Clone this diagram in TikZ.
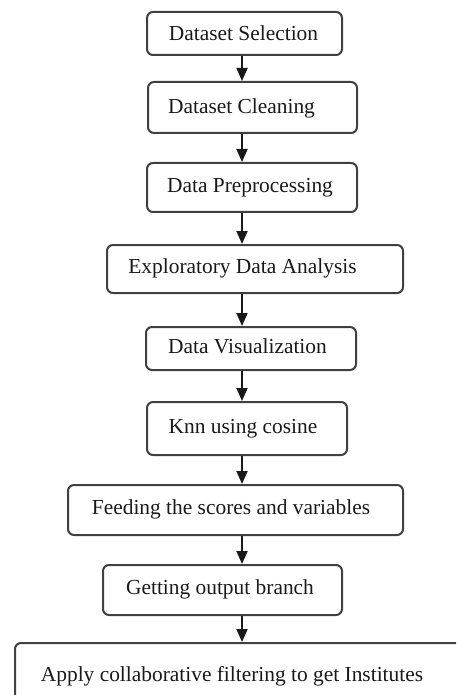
\documentclass[tikz,border=0pt]{standalone}
\usepackage{fontspec}
\setmainfont{Liberation Serif}
\usetikzlibrary{arrows.meta}

\tikzset{
  stepbox/.style={draw=black!75, line width=1pt, rounded corners=3pt, inner sep=0pt},
  steptext/.style={inner sep=0pt, text height=1.48ex, text depth=0pt,
    font=\fontsize{10.7}{13}\selectfont, text=black!90},
  flow/.style={draw=black!90, line width=0.9pt, -{Triangle[length=6.5pt, width=5.5pt]}}
}

\begin{document}
\begin{tikzpicture}[x=0.5pt, y=-0.5pt]
\useasboundingbox (0,0) rectangle (456,695);
\clip (0,0) rectangle (456,695);
\coordinate (spine) at (242,0);

% boxes
\node[stepbox, minimum width=97.5pt, minimum height=21.5pt] (sel) at (244.5,33.5) {};
\node[stepbox, minimum width=104.5pt, minimum height=25.5pt] (cln) at (252.5,107.5) {};
\node[stepbox, minimum width=105pt, minimum height=24.5pt] (pre) at (252,187.5) {};
\node[stepbox, minimum width=148pt, minimum height=24pt] (eda) at (255,269) {};
\node[stepbox, minimum width=105pt, minimum height=21.5pt] (vis) at (251,348.5) {};
\node[stepbox, minimum width=100pt, minimum height=26.5pt] (knn) at (247,428.5) {};
\node[stepbox, minimum width=167.5pt, minimum height=25pt] (feed) at (235.5,510) {};
\node[stepbox, minimum width=119.5pt, minimum height=25pt] (out) at (222.5,590) {};
\node[stepbox, minimum width=228pt, minimum height=34pt] (cf) at (243,677) {};

% labels
\node[steptext] (sel-t) at (243.5,34) {Dataset Selection};
\node[steptext] (cln-t) at (241.5,106.5) {Dataset Cleaning};
\node[steptext] (pre-t) at (250,186) {Data Preprocessing};
\node[steptext] (eda-t) at (242.5,267) {Exploratory Data Analysis};
\node[steptext] (vis-t) at (247.5,347) {Data Visualization};
\node[steptext] (knn-t) at (243,427) {Knn using cosine};
\node[steptext] (feed-t) at (231,508) {Feeding the scores and variables};
\node[steptext] (out-t) at (220,588) {Getting output branch};
\node[steptext] (cf-t) at (232,675) {Apply collaborative filtering to get Institutes};

% arrows
\draw[flow] (sel.south -| spine) -- (cln.north -| spine);
\draw[flow] (cln.south -| spine) -- (pre.north -| spine);
\draw[flow] (pre.south -| spine) -- (eda.north -| spine);
\draw[flow] (eda.south -| spine) -- (vis.north -| spine);
\draw[flow] (vis.south -| spine) -- (knn.north -| spine);
\draw[flow] (knn.south -| spine) -- (feed.north -| spine);
\draw[flow] (feed.south -| spine) -- (out.north -| spine);
\draw[flow] (out.south -| spine) -- (cf.north -| spine);
\end{tikzpicture}
\end{document}
